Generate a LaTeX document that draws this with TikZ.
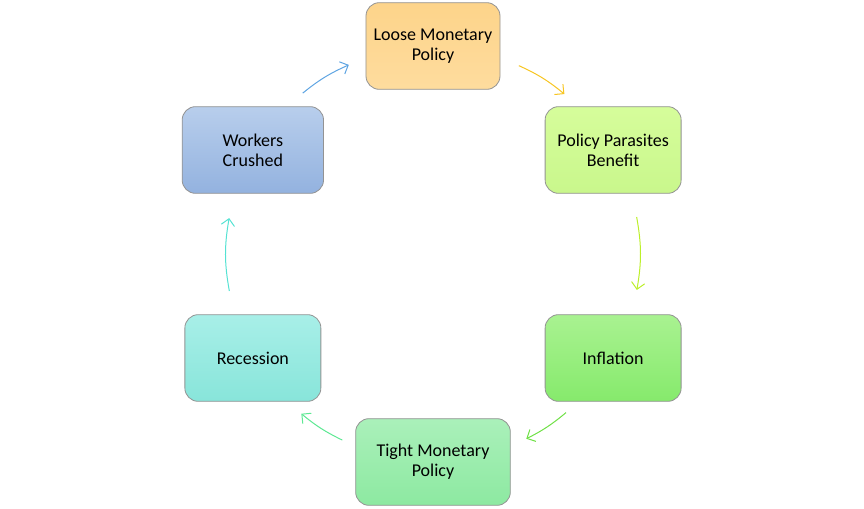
\documentclass[tikz,border=0pt]{standalone}
\usepackage{fontspec}
\setmainfont{Carlito}
\usetikzlibrary{arrows.meta}

\definecolor{looseTop}{HTML}{FDD48A}
\definecolor{looseBot}{HTML}{FEDC9E}
\definecolor{paraTop}{HTML}{D6FD9B}
\definecolor{paraBot}{HTML}{C9F78C}
\definecolor{inflTop}{HTML}{A9F291}
\definecolor{inflBot}{HTML}{86EA6C}
\definecolor{tightTop}{HTML}{AAF0BA}
\definecolor{tightBot}{HTML}{8DE9A1}
\definecolor{recTop}{HTML}{A8EFE8}
\definecolor{recBot}{HTML}{88E5DA}
\definecolor{workTop}{HTML}{B8CEEC}
\definecolor{workBot}{HTML}{93B2DF}
\definecolor{arBlue}{HTML}{5EA4E2}
\definecolor{arYellow}{HTML}{F7C520}
\definecolor{arLime}{HTML}{BCEF2A}
\definecolor{arGreen}{HTML}{6FE046}
\definecolor{arMint}{HTML}{5DE893}
\definecolor{arCyan}{HTML}{55E2D3}

\tikzset{
  >={Straight Barb[length=5pt,width=10pt]},
  box/.style={rectangle, rounded corners=10pt, draw=gray!85, line width=0.6pt,
    align=center, inner sep=2pt, minimum height=65pt,
    font=\fontsize{13.5}{15.2}\selectfont},
  cyc/.style={->, line width=0.75pt, bend left=#1},
}

\begin{document}
\begin{tikzpicture}[x=0.75pt,y=0.75pt]
\useasboundingbox (-433,-254) rectangle (431,254);

% the six steps round the cycle
\node[box,minimum width=100.5pt,top color=looseTop,bottom color=looseBot] (loose) at (90:208) {Loose Monetary\\Policy};
\node[box,minimum width=102pt,top color=paraTop,bottom color=paraBot] (para) at (30:208) {Policy Parasites\\Benefit};
\node[box,minimum width=102pt,top color=inflTop,bottom color=inflBot] (infl) at (-30:208) {Inflation};
\node[box,minimum width=116pt,top color=tightTop,bottom color=tightBot] (tight) at (-90:208) {Tight Monetary\\Policy};
\node[box,minimum width=102pt,top color=recTop,bottom color=recBot] (rec) at (-150:208) {Recession};
\node[box,minimum width=106pt,top color=workTop,bottom color=workBot] (work) at (150:208) {Workers\\Crushed};

% arrow ends on the circle
\coordinate (w1) at (129:207);
\coordinate (w2) at (114:207);
\coordinate (l1) at (65.5:207);
\coordinate (l2) at (50.6:207);
\coordinate (p1) at (10.3:207);
\coordinate (p2) at (-10:207);
\coordinate (i1) at (-50:207);
\coordinate (i2) at (-63.2:207);
\coordinate (t1) at (-116:207);
\coordinate (t2) at (-129.5:207);
\coordinate (r1) at (-169.7:207);
\coordinate (r2) at (170:207);

\draw[cyc=7.5,arBlue] (w1) to (w2);
\draw[cyc=7.5,arYellow] (l1) to (l2);
\draw[cyc=10,arLime] (p1) to (p2);
\draw[cyc=6.5,arGreen] (i1) to (i2);
\draw[cyc=6.8,arMint] (t1) to (t2);
\draw[cyc=10,arCyan] (r1) to (r2);
\end{tikzpicture}
\end{document}
